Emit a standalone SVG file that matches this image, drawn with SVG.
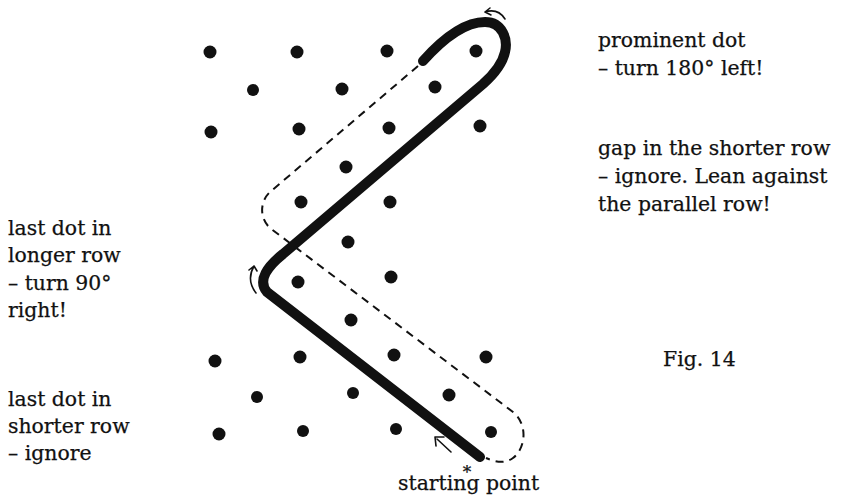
<svg xmlns="http://www.w3.org/2000/svg" width="843" height="497" viewBox="0 0 843 497">
<style>
.t{font-family:"DejaVu Serif","Liberation Serif",serif;font-size:20.4px;fill:#111;stroke:#111;stroke-width:0.25}
.d{fill:#111}
.thick{fill:none;stroke:#111;stroke-width:10;stroke-linecap:round;stroke-linejoin:round}
.dash{fill:none;stroke:#111;stroke-width:2;stroke-dasharray:8 6}
.arr{fill:none;stroke:#111;stroke-width:1.6;stroke-linecap:round;stroke-linejoin:round}
</style>
<rect width="843" height="497" fill="#fff"/>
<g id="dots" class="d">
<circle cx="210" cy="52" r="6.5"/><circle cx="297" cy="52" r="6.5"/><circle cx="387" cy="51" r="6.5"/><circle cx="476" cy="51" r="6.5"/>
<circle cx="253" cy="90" r="6"/><circle cx="342" cy="89" r="6.5"/><circle cx="435" cy="87" r="6.5"/>
<circle cx="211" cy="132" r="6.5"/><circle cx="299" cy="129" r="6.5"/><circle cx="389" cy="128" r="6.5"/><circle cx="480" cy="126" r="6.5"/>
<circle cx="346" cy="167" r="6.5"/>
<circle cx="301" cy="202" r="6.5"/><circle cx="390" cy="202" r="6.5"/>
<circle cx="348" cy="242" r="6.5"/>
<circle cx="298" cy="282" r="6.5"/><circle cx="391" cy="277" r="6.5"/>
<circle cx="351" cy="320" r="6.5"/>
<circle cx="215" cy="361" r="6.5"/><circle cx="300" cy="357" r="6.5"/><circle cx="394" cy="355" r="6.5"/><circle cx="486" cy="357" r="6.5"/>
<circle cx="257" cy="397" r="6"/><circle cx="353" cy="393" r="6"/><circle cx="449" cy="395" r="6.5"/>
<circle cx="219" cy="434" r="6.5"/><circle cx="303" cy="431" r="6"/><circle cx="396" cy="429" r="6"/><circle cx="491" cy="432" r="6"/>
</g>
<g id="connectors">
<path class="thick" d="M423 61 C440 42 462 22 485 22 C503 22 508 40 505 52 C502 66 492 76 483 84 L283 254 C268 266 257 280 267 292 L480 457"/>
<path class="dash" d="M418 66 L270 192 C260 201 259 218 270 228 L513 412 C528 424 526 448 513 458 C505 464 495 462 486 458"/>
<path class="arr" d="M505 19 Q498 8 485 12 M485 12 L490 8 M485 12 L491 15"/>
<path class="arr" d="M256 293 Q246 280 254 266 M254 266 L249 270 M254 266 L257 271"/>
<path class="arr" d="M437 439 L451 452 M436 446 L435 437 L444 437"/>
</g>
<g id="labels" class="t">
<text x="598" y="47">prominent dot</text>
<text x="598" y="75">– turn 180° left!</text>
<text x="598" y="155">gap in the shorter row</text>
<text x="598" y="183">– ignore. Lean against</text>
<text x="598" y="211">the parallel row!</text>
<text x="8" y="235">last dot in</text>
<text x="8" y="262">longer row</text>
<text x="8" y="290">– turn 90°</text>
<text x="8" y="317">right!</text>
<text x="8" y="406">last dot in</text>
<text x="8" y="433">shorter row</text>
<text x="8" y="460">– ignore</text>
<text x="663" y="366">Fig. 14</text>
<text x="467" y="478" text-anchor="middle" style="font-size:17px">*</text>
<text x="398" y="490">starting point</text>
</g>
</svg>
